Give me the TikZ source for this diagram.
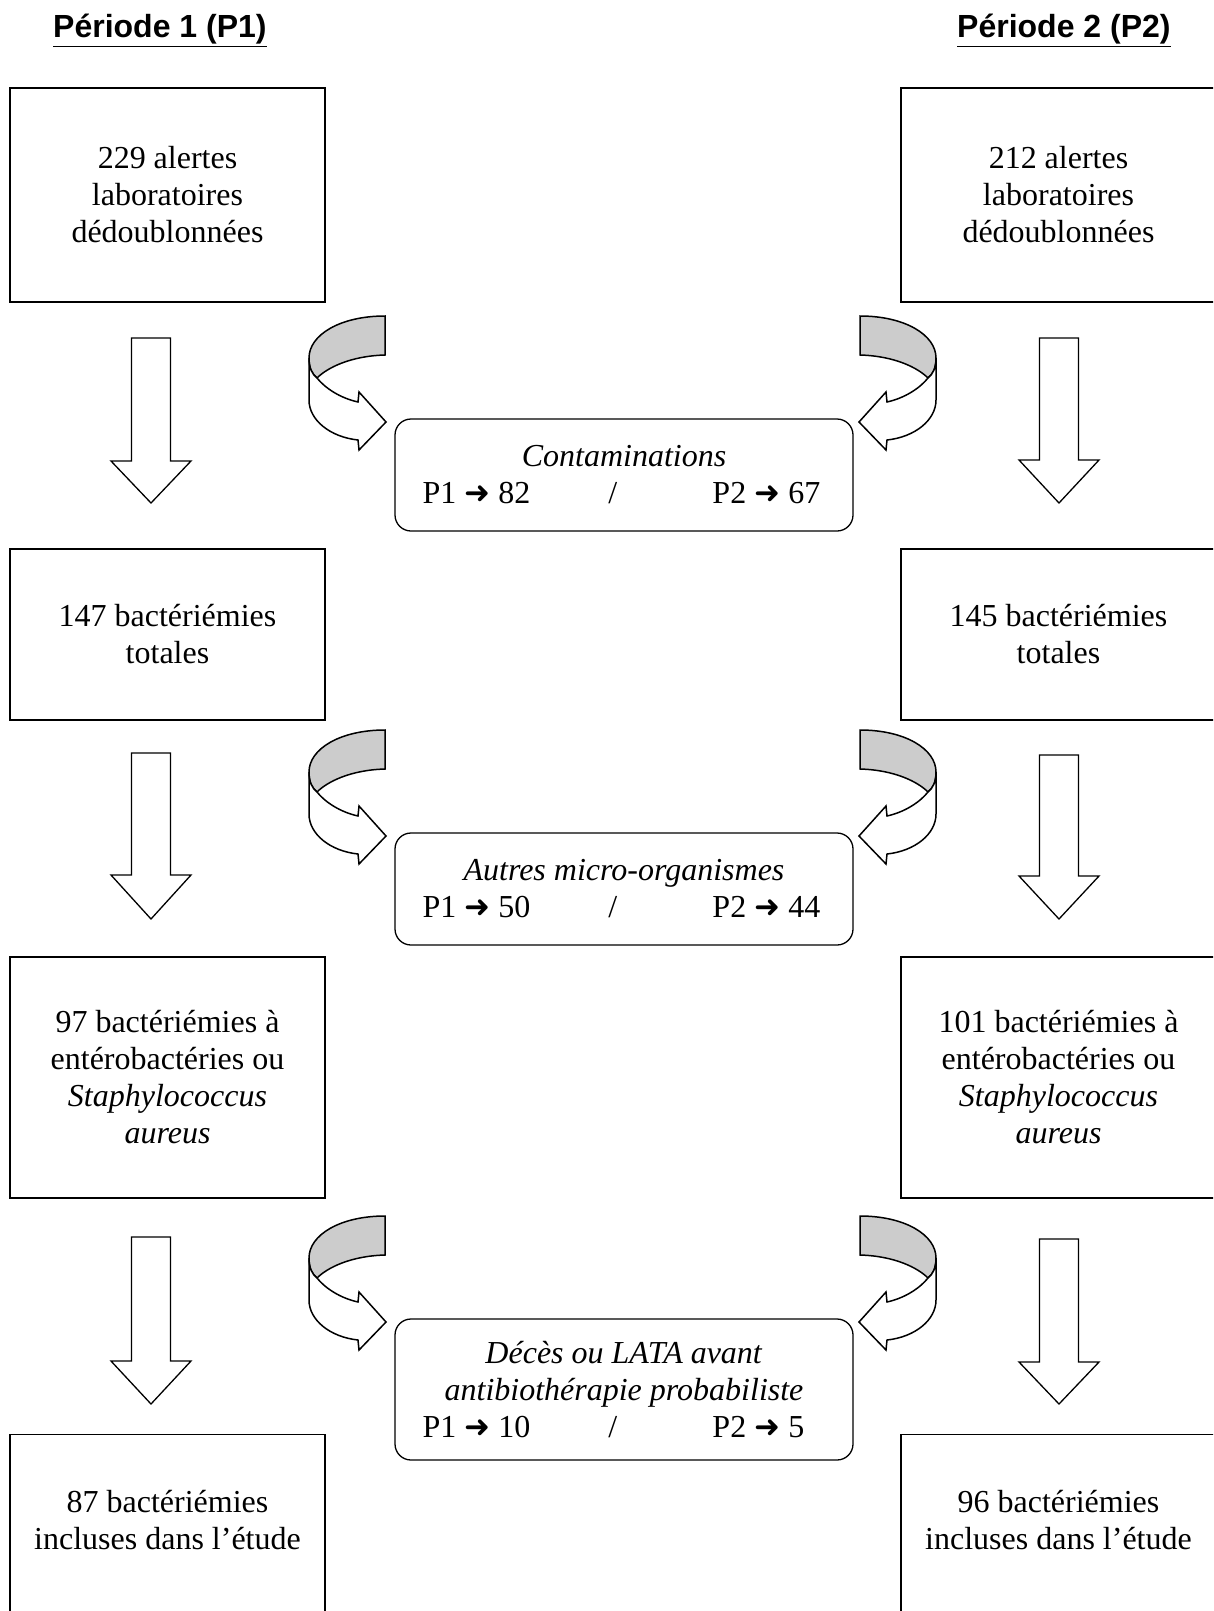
\documentclass[tikz,border=0pt]{standalone}
\usepackage{fontspec}
\setmainfont{Liberation Serif}
\newfontfamily\titlefont{Liberation Sans}
\newfontfamily\arrowfont{DejaVu Sans}
\newcommand\arr{{\arrowfont\fontsize{31}{31}\selectfont ➜}}
\newcommand\rowline[2]{\makebox[403pt][l]{\rlap{P1 \arr{} #1}\hspace*{186pt}\rlap{/}\hspace*{104pt}P2 \arr{} #2}}
\newcommand\curvedarrow[1]{%
\begin{scope}[#1]
\filldraw[bandback] (385,316) .. controls (340,316) and (309,335) .. (309,358)
  .. controls (309,368) and (312,374) .. (317,378)
  .. controls (327,368) and (350,356) .. (385,355) -- cycle;
\filldraw[bandfront] (309,358) -- (309,400) .. controls (309,420) and (330,437) .. (358,440)
  -- (359,450) -- (386,422) -- (359,392) -- (358,402)
  .. controls (340,398) and (325,388) .. (317,378)
  .. controls (312,374) and (309,368) .. (309,358) -- cycle;
\end{scope}}
\newcommand\downarr[4]{\draw[blockarrow] (#1-19.5,#2) -- (#1+19.5,#2) -- (#1+19.5,#3) -- (#1+40,#3) -- (#1,#4) -- (#1-40,#3) -- (#1-19.5,#3) -- cycle;}
\begin{document}
\begin{tikzpicture}[x=1pt,y=-1pt,
  box/.style={draw, line width=1.3pt, minimum width=315pt, inner sep=0pt, align=center, font=\fontsize{32}{37}\selectfont},
  roundbox/.style={draw, line width=1.3pt, rounded corners=16pt, minimum width=458pt, inner sep=0pt, align=center, font=\fontsize{32}{37}\selectfont},
  blockarrow/.style={draw, line width=1.3pt, fill=white, line join=miter},
  bandback/.style={draw, line width=1.5pt, fill=gray!40, line join=miter},
  bandfront/.style={draw, line width=1.5pt, fill=white, line join=miter},
  titlestyle/.style={font=\titlefont\bfseries\fontsize{32}{37}\selectfont, anchor=base west, inner sep=0pt}]
\useasboundingbox (0,0) rectangle (1213,1611);
\fill[white] (0,0) rectangle (1213,1611);
\begin{scope}
\clip (0,0) rectangle (1213,1611);
% titles
\node[titlestyle] (t1) at (53,38) {\underline{Période 1 (P1)}};
\node[titlestyle] (t2) at (957,38) {\underline{Période 2 (P2)}};
% left column
\node[box, minimum height=214pt] (L1) at (167.5,195) {229 alertes\\laboratoires\\dédoublonnées};
\node[box, minimum height=171pt] (L2) at (167.5,634.5) {147 bactériémies\\totales};
\node[box, minimum height=241pt] (L3) at (167.5,1077.5) {97 bactériémies à\\entérobactéries ou\\\textit{Staphylococcus}\\\textit{aureus}};
\node[box, minimum height=186pt, anchor=north] (L4) at (167.5,1434) {};
\node[align=center, inner sep=0pt, font=\fontsize{32}{37}\selectfont] (L4t) at (167.5,1520.5) {87 bactériémies\\incluses dans l’étude};
% right column
\node[box, minimum height=214pt] (R1) at (1058.5,195) {212 alertes\\laboratoires\\dédoublonnées};
\node[box, minimum height=171pt] (R2) at (1058.5,634.5) {145 bactériémies\\totales};
\node[box, minimum height=241pt] (R3) at (1058.5,1077.5) {101 bactériémies à\\entérobactéries ou\\\textit{Staphylococcus}\\\textit{aureus}};
\node[box, minimum height=186pt, anchor=north] (R4) at (1058.5,1434) {};
\node[align=center, inner sep=0pt, font=\fontsize{32}{37}\selectfont] (R4t) at (1058.5,1520.5) {96 bactériémies\\incluses dans l’étude};
% centre boxes
\node[roundbox, minimum height=112pt] (C1) at (624,475) {\textit{Contaminations}\\\rowline{82}{67}};
\node[roundbox, minimum height=112pt] (C2) at (624,889) {\textit{Autres micro-organismes}\\\rowline{50}{44}};
\node[roundbox, minimum height=141pt] (C3) at (624,1389.5) {\textit{Décès ou LATA avant}\\\textit{antibiothérapie probabiliste}\\\rowline{10}{5}};
% down arrows
\downarr{151}{338}{461}{503}
\downarr{151}{753}{875}{919}
\downarr{151}{1237}{1361}{1404}
\downarr{1059}{338}{460}{503}
\downarr{1059}{755}{876}{919}
\downarr{1059}{1239}{1362}{1404}
% curved arrows
\curvedarrow{shift={(0,0)}}
\curvedarrow{shift={(0,414)}}
\curvedarrow{shift={(0,900)}}
\curvedarrow{shift={(1245,0)}, xscale=-1}
\curvedarrow{shift={(1245,414)}, xscale=-1}
\curvedarrow{shift={(1245,900)}, xscale=-1}
\end{scope}
\end{tikzpicture}
\end{document}
